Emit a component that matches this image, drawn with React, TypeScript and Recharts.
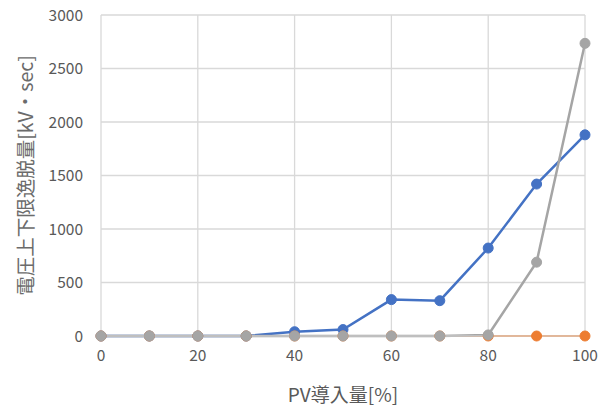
import { CartesianGrid, Line, LineChart, XAxis, YAxis } from "recharts";

// PV導入量ごとの電圧上下限逸脱量
const pvRates = [0, 10, 20, 30, 40, 50, 60, 70, 80, 90, 100];
const seriesBlue = [0, 0, 0, 0, 40, 60, 340, 330, 822, 1420, 1880];
const seriesOrange = [0, 0, 0, 0, 0, 0, 0, 0, 0, 0, 0];
const seriesGray = [0, 0, 0, 0, 0, 0, 0, 0, 10, 690, 2735];
const xTicks = [0, 20, 40, 60, 80, 100];
const yTicks = [0, 500, 1000, 1500, 2000, 2500, 3000];

const data = pvRates.map((x, i) => ({
  x,
  blue: seriesBlue[i],
  orange: seriesOrange[i],
  gray: seriesGray[i],
}));

const FONT = '"Noto Sans CJK JP", "Noto Sans", sans-serif';
const TEXT = "#595959";
const GRID = "#d9d9d9";

export default function App() {
  return (
    <div style={{ position: "absolute", left: 0, top: 0, width: 606, height: 410, background: "#fff", fontFamily: FONT }}>
      <LineChart width={606} height={410} data={data} margin={{ top: 15, right: 21, bottom: 0, left: 0 }}>
        <CartesianGrid stroke={GRID} strokeWidth={1.3} />
        <XAxis
          dataKey="x"
          type="number"
          domain={[0, 100]}
          ticks={xTicks}
          height={74}
          tickLine={false}
          tickSize={0}
          tickMargin={14}
          axisLine={{ stroke: GRID }}
          tick={{ fontSize: 15.5, fill: TEXT, fontFamily: FONT }}
          label={{
            value: "PV導入量[%]",
            position: "insideBottom",
            offset: 8,
            style: { fontSize: 19, fill: TEXT, fontFamily: FONT },
          }}
        />
        <YAxis
          type="number"
          domain={[0, 3000]}
          ticks={yTicks}
          width={101}
          tickLine={false}
          tickSize={0}
          tickMargin={18}
          axisLine={false}
          tick={{ fontSize: 15.5, fill: TEXT, fontFamily: FONT }}
          label={{
            value: "電圧上下限逸脱量[kV・sec]",
            angle: -90,
            position: "insideLeft",
            offset: 26,
            style: { textAnchor: "middle", fontSize: 19.5, fill: "#6b6b6b", fontFamily: FONT },
          }}
        />
        <Line dataKey="blue" stroke="#4472C4" strokeWidth={2.5} dot={{ r: 5, fill: "#4472C4", stroke: "#4472C4", strokeWidth: 1 }} isAnimationActive={false} />
        <Line dataKey="orange" stroke="#ED7D31" strokeWidth={1.5} dot={{ r: 5, fill: "#ED7D31", stroke: "#ED7D31", strokeWidth: 1 }} isAnimationActive={false} />
        <Line dataKey="gray" stroke="#A5A5A5" strokeWidth={2.5} dot={{ r: 5, fill: "#A5A5A5", stroke: "#A5A5A5", strokeWidth: 1 }} isAnimationActive={false} />
      </LineChart>
    </div>
  );
}
